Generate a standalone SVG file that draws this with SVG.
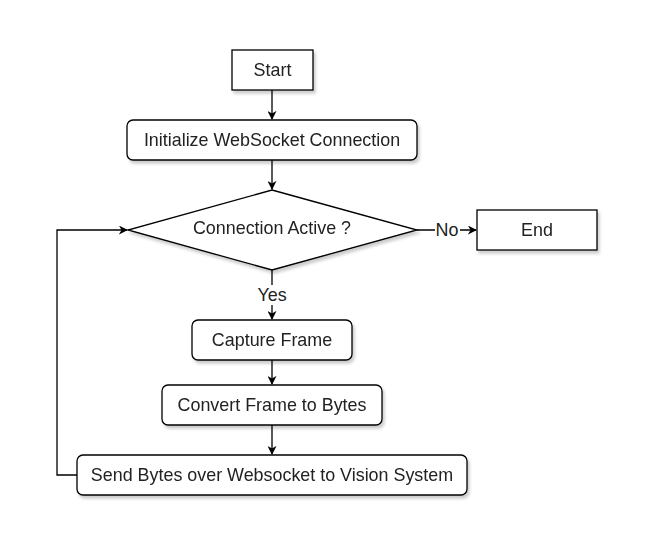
<svg xmlns="http://www.w3.org/2000/svg" width="654" height="553" viewBox="0 0 654 553">
<style>
.n{fill:#fff;stroke:#000;stroke-width:1.3}
.t{font-family:"Liberation Sans",Arial,sans-serif;font-size:17.9px;fill:#222;text-anchor:middle;dominant-baseline:central}
.e{fill:none;stroke:#000;stroke-width:1.3}
.lb{fill:#fff}
</style>
<defs>
<filter id="sh" x="-10%" y="-20%" width="130%" height="160%">
<feDropShadow dx="2" dy="3" stdDeviation="1.5" flood-color="#000" flood-opacity="0.2"/>
</filter>
<marker id="a" viewBox="0 0 10 10" refX="9" refY="5" markerWidth="9" markerHeight="9" markerUnits="userSpaceOnUse" orient="auto">
<path d="M0,0 L10,5 L0,10 L3,5 Z" fill="#000"/>
</marker>
</defs>
<rect width="654" height="553" fill="#fff"/>
<g id="connectors">
<path class="e" d="M272,90 V119" marker-end="url(#a)"/>
<path class="e" d="M272,160 V189" marker-end="url(#a)"/>
<path class="e" d="M417,230 H476" marker-end="url(#a)"/>
<path class="e" d="M272,270 V319" marker-end="url(#a)"/>
<path class="e" d="M272,360 V384" marker-end="url(#a)"/>
<path class="e" d="M272,425 V454" marker-end="url(#a)"/>
<path class="e" d="M77,475 H57 V230 H127" marker-end="url(#a)"/>
<rect class="lb" x="435" y="220" width="25" height="20"/>
<text class="t" x="447" y="230">No</text>
<rect class="lb" x="256" y="285" width="33" height="20"/>
<text class="t" x="272" y="295">Yes</text>
</g>
<g id="start" filter="url(#sh)">
<rect class="n" x="232" y="50" width="81" height="40"/>
<text class="t" x="272.5" y="70">Start</text>
</g>
<g id="init" filter="url(#sh)">
<rect class="n" x="127" y="120" width="290" height="40" rx="6"/>
<text class="t" x="272" y="140">Initialize WebSocket Connection</text>
</g>
<g id="decision" filter="url(#sh)">
<path class="n" d="M272,190 L417,230 L272,270 L128,230 Z"/>
<text class="t" x="272" y="228">Connection Active ?</text>
</g>
<g id="end" filter="url(#sh)">
<rect class="n" x="477" y="210" width="120" height="40"/>
<text class="t" x="537" y="230">End</text>
</g>
<g id="capture" filter="url(#sh)">
<rect class="n" x="192" y="320" width="160" height="40" rx="6"/>
<text class="t" x="272" y="340">Capture Frame</text>
</g>
<g id="convert" filter="url(#sh)">
<rect class="n" x="162" y="385" width="220" height="40" rx="6"/>
<text class="t" x="272" y="405">Convert Frame to Bytes</text>
</g>
<g id="send" filter="url(#sh)">
<rect class="n" x="77" y="455" width="390" height="40" rx="6"/>
<text class="t" x="272" y="475">Send Bytes over Websocket to Vision System</text>
</g>
</svg>
